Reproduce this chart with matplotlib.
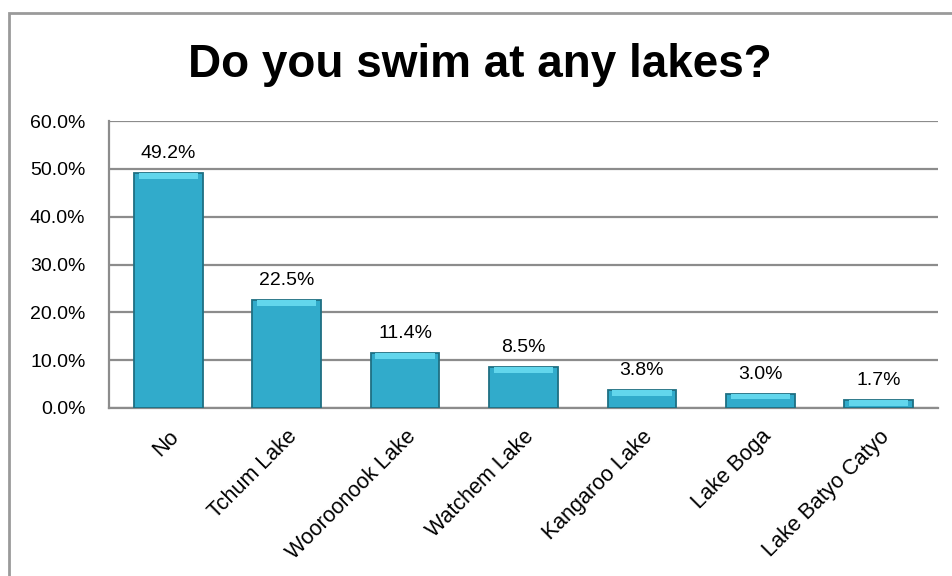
import matplotlib.pyplot as plt
from matplotlib.patches import Rectangle

plt.rcParams['font.family'] = ['Liberation Sans', 'DejaVu Sans']

lakes = ['No', 'Tchum Lake', 'Wooroonook Lake', 'Watchem Lake',
         'Kangaroo Lake', 'Lake Boga', 'Lake Batyo Catyo']
share = [49.2, 22.5, 11.4, 8.5, 3.8, 3.0, 1.7]
yticks = [0, 10, 20, 30, 40, 50, 60]

fig = plt.figure(figsize=(9.52, 5.76), dpi=100)
ax = fig.add_axes([0.1145, 0.2917, 0.8708, 0.498])

# outer chart border (bottom and right run off the image)
fig.patches.append(Rectangle((9 / 952, -0.2), 1.2, 0.2 + (576 - 13) / 576,
                             transform=fig.transFigure, fill=False,
                             edgecolor='#9a9a9a', lw=2))

x = range(len(lakes))
bevel = [min(v, 1.2) for v in share]
ax.bar(x, share, width=0.58, color='#31abcb', edgecolor='#1f6f82', lw=1.3, zorder=3)
# light bevel along the top of each bar
ax.bar(x, bevel, bottom=[v - b for v, b in zip(share, bevel)],
       width=0.5, color='#62d6ec', lw=0, zorder=4)

for i, v in enumerate(share):
    ax.annotate(f'{v:.1f}%', (i, v), xytext=(0, 8), textcoords='offset points',
                ha='center', va='bottom', fontsize=14)

ax.set_xlim(-0.5, len(lakes) - 0.5)
ax.set_ylim(0, 60)
ax.set_yticks(yticks)
ax.set_yticklabels([f'{t:.1f}%' for t in yticks], fontsize=14)
ax.set_xticks(list(x))
ax.set_xticklabels(lakes, rotation=45, ha='right', va='top',
                   rotation_mode='anchor', fontsize=15.5)
ax.tick_params(axis='y', length=0, pad=17)
ax.tick_params(axis='x', length=0, pad=13)
ax.grid(axis='y', color='#8c8c8c', lw=1.6, zorder=0)
for s in ['top', 'right']:
    ax.spines[s].set_visible(False)
for s in ['left', 'bottom']:
    ax.spines[s].set_color('#8c8c8c')
    ax.spines[s].set_linewidth(1.6)

fig.text(0.504, 0.866, 'Do you swim at any lakes?', ha='center', va='baseline',
         fontsize=33, fontweight='bold')

fig.savefig('out.png', dpi=100)
